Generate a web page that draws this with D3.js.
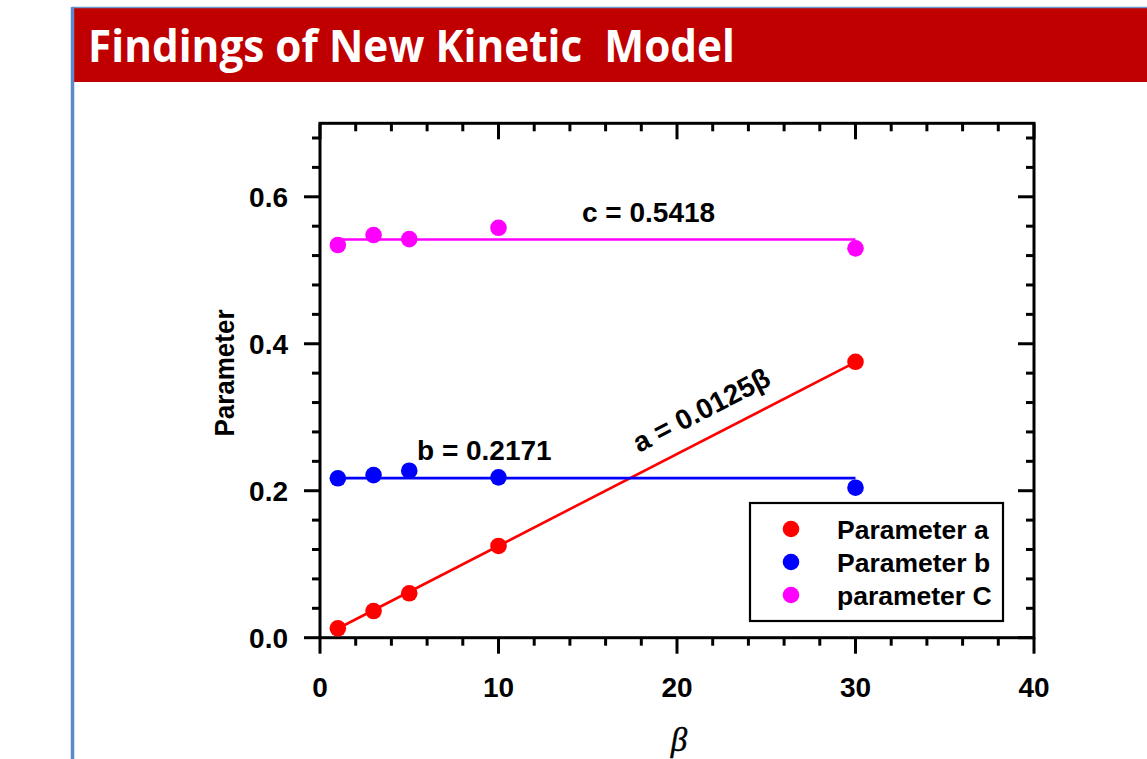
<!DOCTYPE html>
<html>
<head>
<meta charset="utf-8">
<script src="https://cdn.jsdelivr.net/npm/d3@7"></script>
<style>
  body { margin: 0; background: #fff; }
  svg { display: block; }
</style>
</head>
<body>
<svg id="chart" width="1147" height="759"></svg>
<script>
// values
const betas = [1, 3, 5, 10, 30];
const paramA = [0.0128, 0.0363, 0.0604, 0.1248, 0.3755];
const paramB = [0.2169, 0.2213, 0.2272, 0.2182, 0.2041];
const paramC = [0.5343, 0.5479, 0.5424, 0.5578, 0.5298];
const fitSlopeA = 0.0125;
const fitB = 0.2171;
const fitC = 0.5418;
const fitRange = [1, 30];
const xTicks = [0, 10, 20, 30, 40];
const yTicks = [0.0, 0.2, 0.4, 0.6];
const legendLabels = ['Parameter a', 'Parameter b', 'parameter C'];
const colors = ['#ff0000', '#0000ff', '#ff00ff'];

const svg = d3.select('#chart');

// slide frame + title bar
svg.append('rect').attr('x', 72).attr('y', 8).attr('width', 1075).attr('height', 74).attr('fill', '#c00000');
svg.append('line').attr('x1', 72).attr('x2', 1147).attr('y1', 7.5).attr('y2', 7.5)
	.attr('stroke', '#6b96cc').attr('stroke-width', 1.5);
svg.append('line').attr('x1', 72.5).attr('x2', 72.5).attr('y1', 7).attr('y2', 759)
	.attr('stroke', '#5b8bc9').attr('stroke-width', 3.5);
svg.append('text').attr('x', 88).attr('y', 62)
	.attr('font-family', 'Open Sans, sans-serif').attr('font-weight', 'bold')
	.attr('font-size', 44).attr('fill', '#fff')
	.attr('textLength', 647).attr('lengthAdjust', 'spacingAndGlyphs')
	.style('white-space', 'pre')
	.text('Findings of New Kinetic  Model');

// plot area
const pLeft = 320, pRight = 1034, pTop = 123.3, pBottom = 637.7;
const x = d3.scaleLinear().domain([0, 40]).range([pLeft, pRight]);
const y = d3.scaleLinear().domain([0, 0.7]).range([pBottom, pTop]);

const font = 'Liberation Sans, Arial, sans-serif';
const ax = svg.append('g').attr('stroke', '#000').attr('stroke-width', 3);

// minor ticks (all four sides)
const xMinor = d3.range(0, 41, 2).filter(v => v % 10 !== 0);
const yMinor = d3.range(0, 0.701, 0.04).filter(v => Math.abs(v / 0.2 - Math.round(v / 0.2)) > 1e-6);
xMinor.forEach(v => {
	ax.append('line').attr('x1', x(v)).attr('x2', x(v)).attr('y1', pBottom).attr('y2', pBottom + 8);
	ax.append('line').attr('x1', x(v)).attr('x2', x(v)).attr('y1', pTop).attr('y2', pTop + 8);
});
yMinor.forEach(v => {
	ax.append('line').attr('y1', y(v)).attr('y2', y(v)).attr('x1', pLeft).attr('x2', pLeft - 8);
	ax.append('line').attr('y1', y(v)).attr('y2', y(v)).attr('x1', pRight).attr('x2', pRight - 8);
});
// major ticks
xTicks.forEach(v => {
	ax.append('line').attr('x1', x(v)).attr('x2', x(v)).attr('y1', pBottom).attr('y2', pBottom + 16);
	ax.append('line').attr('x1', x(v)).attr('x2', x(v)).attr('y1', pTop).attr('y2', pTop + 16);
});
yTicks.forEach(v => {
	ax.append('line').attr('y1', y(v)).attr('y2', y(v)).attr('x1', pLeft).attr('x2', pLeft - 16);
	ax.append('line').attr('y1', y(v)).attr('y2', y(v)).attr('x1', pRight).attr('x2', pRight - 16);
});
// frame
ax.append('rect').attr('x', pLeft).attr('y', pTop).attr('width', pRight - pLeft).attr('height', pBottom - pTop)
	.attr('fill', 'none');

// tick labels
svg.append('g').selectAll('text').data(xTicks).join('text')
	.attr('x', d => x(d)).attr('y', 697)
	.attr('text-anchor', 'middle').attr('font-family', font).attr('font-weight', 'bold').attr('font-size', 28)
	.text(d => d3.format('d')(d));
svg.append('g').selectAll('text').data(yTicks).join('text')
	.attr('x', 288).attr('y', d => y(d) + 10)
	.attr('text-anchor', 'end').attr('font-family', font).attr('font-weight', 'bold').attr('font-size', 28)
	.text(d => d3.format('.1f')(d));

// axis titles
svg.append('text').attr('transform', 'translate(234,373) rotate(-90)')
	.attr('text-anchor', 'middle').attr('font-family', font).attr('font-weight', 'bold').attr('font-size', 27)
	.attr('textLength', 127).attr('lengthAdjust', 'spacingAndGlyphs')
	.text('Parameter');
svg.append('text').attr('x', 679).attr('y', 751)
	.attr('text-anchor', 'middle').attr('font-family', 'Liberation Serif, Times New Roman, serif')
	.attr('font-style', 'italic').attr('font-size', 33).attr('stroke', '#000').attr('stroke-width', 0.4)
	.text('β');

// fit lines
const fits = [
	v => fitSlopeA * v,
	() => fitB,
	() => fitC
];
const line = d3.line().x(d => x(d[0])).y(d => y(d[1]));
fits.forEach((f, i) => {
	svg.append('path')
		.attr('d', line(fitRange.map(v => [v, f(v)])))
		.attr('fill', 'none').attr('stroke', colors[i]).attr('stroke-width', 2.6);
});

// data points
[paramA, paramB, paramC].forEach((series, i) => {
	svg.append('g').selectAll('circle').data(series).join('circle')
		.attr('cx', (d, j) => x(betas[j])).attr('cy', d => y(d))
		.attr('r', 8.3).attr('fill', colors[i]);
});

// annotations
const ann = svg.append('g').attr('font-family', font).attr('font-weight', 'bold').attr('font-size', 28).attr('fill', '#000');
ann.append('text').attr('x', 582).attr('y', 222).text('c = ' + fitC);
ann.append('text').attr('x', 417).attr('y', 460).text('b = ' + fitB);
const ang = Math.atan2(y(fitSlopeA * 30) - y(fitSlopeA * 1), x(30) - x(1)) * 180 / Math.PI;
ann.append('text').attr('transform', `translate(639,453) rotate(${ang})`)
	.text('a = ' + fitSlopeA + 'β');

// legend
const lg = svg.append('g');
lg.append('rect').attr('x', 750).attr('y', 503).attr('width', 253).attr('height', 118)
	.attr('fill', '#fff').attr('stroke', '#000').attr('stroke-width', 2.2);
legendLabels.forEach((lab, i) => {
	const cy = 529 + i * 33;
	lg.append('circle').attr('cx', 791).attr('cy', cy).attr('r', 8.3).attr('fill', colors[i]);
	lg.append('text').attr('x', 837).attr('y', cy + 10)
		.attr('font-family', font).attr('font-weight', 'bold').attr('font-size', 26.5)
		.text(lab);
});
</script>
</body>
</html>
